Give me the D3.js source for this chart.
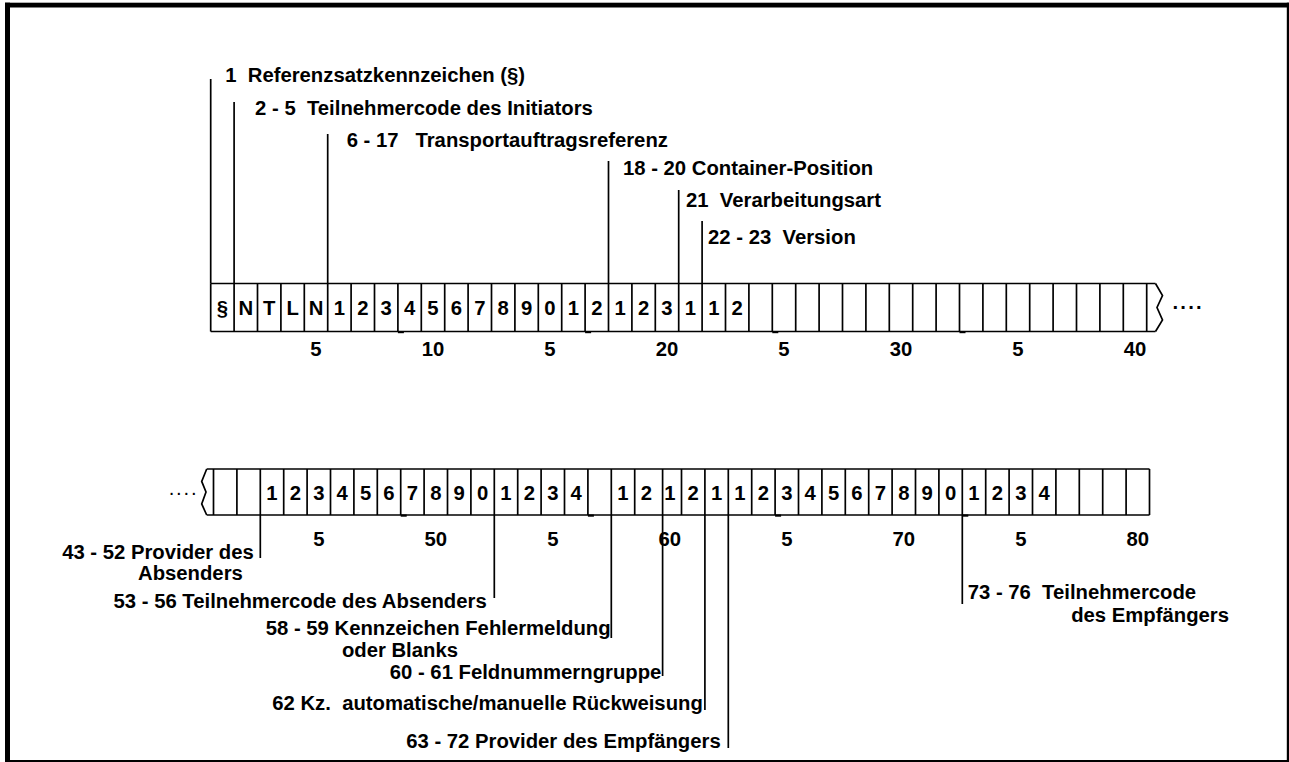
<!DOCTYPE html>
<html><head><meta charset="utf-8">
<script src="https://cdn.jsdelivr.net/npm/d3@7"></script>
<style>
html,body{margin:0;padding:0;background:#fff;}
svg{display:block;}
text{font-family:"Liberation Sans",Arial,sans-serif;font-weight:bold;white-space:pre;fill:#000;}
</style></head><body>
<svg id="c" width="1289" height="762"></svg>
<script>
// ---------- DATA ----------
const row1Positions = d3.range(1, 41);
const row2Positions = d3.range(41, 81);
const row1Chars = ["§","N","T","L","N","1","2","3","4","5","6","7","8","9","0","1","2","1","2","3","1","1","2","","","","","","","","","","","","","","","","",""];
const row2Chars = ["","","1","2","3","4","5","6","7","8","9","0","1","2","3","4","","1","2","1","2","1","1","2","3","4","5","6","7","8","9","0","1","2","3","4","","","",""];
const tickCells1 = [5,10,15,20,25,30,35,40];
const tickLabels1 = ["5","10","5","20","5","30","5","40"];
const tickCells2 = [45,50,55,60,65,70,75,80];
const tickLabels2 = ["5","50","5","60","5","70","5","80"];
const topFieldStarts = [1,2,6,18,21,22];
const topFieldLabels = ["1  Referenzsatzkennzeichen (§)","2 - 5  Teilnehmercode des Initiators","6 - 17   Transportauftragsreferenz","18 - 20 Container-Position","21  Verarbeitungsart","22 - 23  Version"];
const bottomFieldStarts = [43,53,58,60,62,63,73];
const bottomFieldLabels = [["43 - 52 Provider des","Absenders"],["53 - 56 Teilnehmercode des Absenders"],["58 - 59 Kennzeichen Fehlermeldung","oder Blanks"],["60 - 61 Feldnummerngruppe"],["62 Kz.  automatische/manuelle Rückweisung"],["63 - 72 Provider des Empfängers"],["73 - 76  Teilnehmercode","des Empfängers"]];
const byteMarks1 = [9,17,25,33];
const byteMarks2 = [49,57,65,73];

// ---------- LAYOUT ----------
const FS = 20.3;
const svg = d3.select("#c");
const x1 = d3.scaleLinear().domain([1,41]).range([210.7,1146.7]);
const x2 = d3.scaleLinear().domain([41,81]).range([213.5,1149.5]);
const rows = [
  {x:x1, pos:row1Positions, chars:row1Chars, top:283.5, bottom:331.5, textY:315, tickY:356, ticks:tickCells1, tickLabels:tickLabels1, marks:byteMarks1},
  {x:x2, pos:row2Positions, chars:row2Chars, top:469, bottom:515, textY:500, tickY:546, ticks:tickCells2, tickLabels:tickLabels2, marks:byteMarks2}
];
const topLayout = [
  {lineTop:79, dx:14.5, y:75},
  {lineTop:102, dx:21, y:108},
  {lineTop:134, dx:19, y:140},
  {lineTop:161, dx:14.5, y:168},
  {lineTop:190, dx:7.3, y:200},
  {lineTop:221, dx:6, y:237}
];
const bottomLayout = [
  {ldx:0, bottom:558, fromTop:false, lines:[{anchor:"end",dx:-6.5,y:552},{anchor:"start",dx:-122.3,y:573}]},
  {ldx:0, bottom:598, fromTop:false, lines:[{anchor:"end",dx:-7.6,y:601}]},
  {ldx:0, bottom:638, fromTop:false, lines:[{anchor:"end",dx:-0.7,y:628},{anchor:"start",dx:-269.4,y:650}]},
  {ldx:4.5, bottom:676, fromTop:true, lines:[{anchor:"end",dx:-1.2,y:672}]},
  {ldx:0, bottom:710, fromTop:false, lines:[{anchor:"end",dx:-2.1,y:703}]},
  {ldx:0, bottom:748, fromTop:false, lines:[{anchor:"end",dx:-7.6,y:741}]},
  {ldx:0, bottom:604, fromTop:false, lines:[{anchor:"start",dx:5.4,y:592},{anchor:"start",dx:108.9,y:615}]}
];

// ---------- FRAME ----------
const frame = svg.append("g").attr("fill","#000");
frame.append("rect").attr("x",5).attr("y",2.7).attr("width",1284).attr("height",4.8);
frame.append("rect").attr("x",5).attr("y",2.7).attr("width",5).attr("height",760);
frame.append("rect").attr("x",1286.8).attr("y",2.7).attr("width",2.2).attr("height",760);
frame.append("rect").attr("x",5).attr("y",760).attr("width",1284).attr("height",2);

const SW = 1.7;
function drawRow(r, idx){
  const g = svg.append("g").attr("stroke","#000").attr("stroke-width",SW).attr("fill","none");
  const first = r.pos[0], last = r.pos[r.pos.length-1]+1;
  const left = idx===0 ? r.x(first) : r.x(first)-6.8;
  const right = idx===0 ? r.x(last)+8.8 : r.x(last);
  g.append("line").attr("x1",left).attr("x2",right).attr("y1",r.top).attr("y2",r.top);
  g.append("line").attr("x1",left).attr("x2",right).attr("y1",r.bottom).attr("y2",r.bottom);
  const skip = idx===1 ? [60] : [];
  const bounds = r.pos.concat([last]).filter(p => !skip.includes(p));
  g.selectAll("line.b").data(bounds).join("line").attr("class","b")
    .attr("x1",d=>r.x(d)).attr("x2",d=>r.x(d)).attr("y1",r.top).attr("y2",r.bottom);
  const h = r.bottom - r.top;
  if(idx===0){
    const xe = r.x(last)+8.8;
    g.append("polyline").attr("points",[[xe,r.top],[xe+7,r.top+0.25*h],[xe+1.5,r.top+0.5*h],[xe+7,r.top+0.76*h],[xe,r.bottom]].map(p=>p.join(",")).join(" "));
    svg.append("text").attr("x",xe+17).attr("y",r.textY-6).attr("font-size",FS).attr("letter-spacing",2.2).text("....");
  } else {
    const xs = r.x(first)-6.8;
    g.append("polyline").attr("points",[[xs,r.top],[xs-5,r.top+0.27*h],[xs-0.7,r.top+0.5*h],[xs-5,r.top+0.76*h],[xs,r.bottom]].map(p=>p.join(",")).join(" "));
    svg.append("text").attr("x",xs-38).attr("y",r.textY-5).attr("font-size",FS).style("font-weight","normal").attr("letter-spacing",1.8).attr("fill","#333").text("....");
  }
  // small stubs at byte boundaries
  svg.append("g").selectAll("rect").data(r.marks).join("rect")
    .attr("x",d=>r.x(d)).attr("y",r.bottom-0.5).attr("width",6).attr("height",2.2).attr("fill","#000");
  // characters
  const w = r.x(first+1)-r.x(first);
  svg.append("g").selectAll("text").data(r.pos.map((p,i)=>({p,c:r.chars[i]})).filter(d=>d.c!==""))
    .join("text").attr("x",d=>r.x(d.p)+w/2).attr("y",r.textY).attr("text-anchor","middle").attr("font-size",FS).text(d=>d.c);
  // tick labels
  svg.append("g").selectAll("text").data(r.ticks.map((p,i)=>({p,t:r.tickLabels[i]})))
    .join("text").attr("x",d=>r.x(d.p)+w/2).attr("y",r.tickY).attr("text-anchor","middle").attr("font-size",FS).text(d=>d.t);
}
rows.forEach(drawRow);

// top annotations
const tg = svg.append("g");
topFieldStarts.forEach((s,i)=>{
  const L = topLayout[i], xx = x1(s);
  tg.append("line").attr("x1",xx).attr("x2",xx).attr("y1",L.lineTop).attr("y2",rows[0].top)
    .attr("stroke","#000").attr("stroke-width",SW);
  tg.append("text").attr("x",xx+L.dx).attr("y",L.y+7).attr("font-size",FS).text(topFieldLabels[i]);
});

// bottom annotations
const bg = svg.append("g");
bottomFieldStarts.forEach((s,i)=>{
  const L = bottomLayout[i], xx = x2(s)+L.ldx;
  bg.append("line").attr("x1",xx).attr("x2",xx).attr("y1",L.fromTop?rows[1].top:rows[1].bottom).attr("y2",L.bottom)
    .attr("stroke","#000").attr("stroke-width",SW);
  bottomFieldLabels[i].forEach((t,j)=>{
    const ln = L.lines[j];
    bg.append("text").attr("x",xx+ln.dx).attr("y",ln.y+7).attr("text-anchor",ln.anchor).attr("font-size",FS).text(t);
  });
});
</script>
</body></html>
